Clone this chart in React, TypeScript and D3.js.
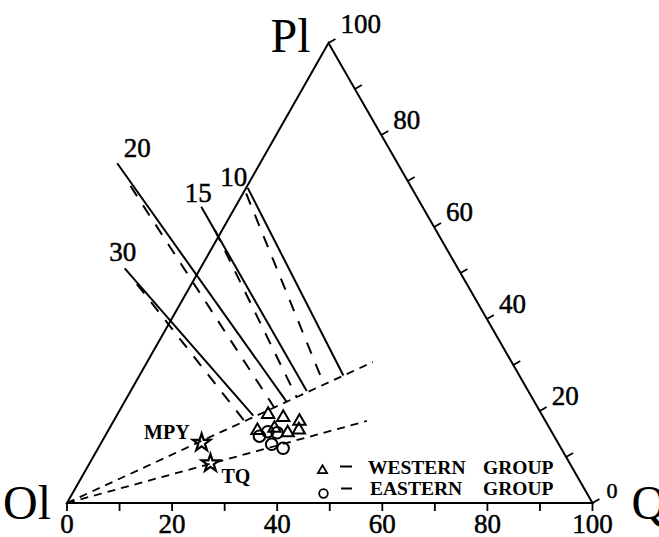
import React from 'react';
import * as d3 from 'd3';

const W = 659;
const H = 537;

// Ternary frame: Ol at lower left, Q at lower right, Pl at the top.
const OL_X = 67;
const Q_X = 592.5;
const BASE_Y = 503;
const PL_X = 328.5;
const PL_Y = 43;

const TICKS = d3.range(0, 101, 10);
const TICK_LABELS = [0, 20, 40, 60, 80, 100];

// All compositions as [Q, Pl] in percent (Ol = 100 - Q - Pl).
const PRESSURES = ['30', '20', '15', '10'];
const SOLID_START = [[-14.4, 51.0], [-27.2, 73.85], [-6.5, 64.4], [0.3, 68.5]];
const SOLID_END = [[26.0, 18.98], [30.8, 22.04], [33.5, 24.35], [38.8, 27.72]];
const DASH_START = [[-10.4, 47.6], [-22.2, 68.9], [-1.4, 59.35], [0.6, 67.3]];
const DASH_END = [[24.9, 17.83], [29.1, 20.76], [32.2, 23.04], [36.0, 25.87]];

// Projection rays drawn from the Ol corner.
const RAY_ENDS = [[42.95, 30.65], [48.2, 17.83]];

const WEST_Q = [28.7, 31.9, 35.4, 28.4, 31.4, 34.4, 36.2];
const WEST_PL = [19.24, 18.59, 17.76, 15.76, 16.24, 15.26, 15.91];
const EAST_Q = [29.4, 30.5, 32.4, 32.6, 35.2];
const EAST_PL = [14.52, 15.5, 15.26, 12.76, 11.89];

const STAR_NAMES = ['MPY', 'TQ'];
const STAR_Q = [19.1, 23.0];
const STAR_PL = [13.1, 8.63];

// Label placement relative to the start of each pressure line.
const PRESSURE_LABEL_OFFSET = [[-2, -16], [20, -15], [-3, -14], [-14, -11]];

const qScale = d3.scaleLinear().domain([0, 100]).range([OL_X, Q_X]);
const plY = d3.scaleLinear().domain([0, 100]).range([BASE_Y, PL_Y]);
const plShift = d3.scaleLinear().domain([0, 100]).range([0, PL_X - OL_X]);

function project(q: number, pl: number): [number, number] {
  return [qScale(q) + plShift(pl), plY(pl)];
}

const line = d3.line<[number, number]>().x((d) => d[0]).y((d) => d[1]);

const NUM_FONT = '"Liberation Serif", serif';

export default function App() {
  const ol = project(0, 0);
  const q = project(100, 0);
  const pl = project(0, 100);

  const triPath = line([ol, q, pl, ol]) + 'Z';

  // outward unit normal of the Q–Pl edge
  const ex = pl[0] - q[0];
  const ey = pl[1] - q[1];
  const len = Math.hypot(ex, ey);
  let nx = -ey / len;
  let ny = ex / len;
  if (nx < 0) {
    nx = -nx;
    ny = -ny;
  }

  const triSym = d3.symbol().type(d3.symbolTriangle).size(66)();
  const legTri = d3.symbol().type(d3.symbolTriangle).size(36)();
  const starSym = d3.symbol().type(d3.symbolStar).size(95)();

  const numStyle = { stroke: '#000', strokeWidth: 0.5 };

  return (
    <svg
      width={W}
      height={H}
      style={{ position: 'absolute', left: 0, top: 0, background: '#fff' }}
    >
      <rect x={0} y={0} width={W} height={H} fill="#fff" />
      <path d={triPath} fill="none" stroke="#000" strokeWidth={2} strokeLinejoin="miter" />

      {/* base ticks and labels (Q) */}
      {TICKS.map((t) => {
        const [x, y] = project(t, 0);
        return <line key={'b' + t} x1={x} y1={y} x2={x} y2={y + 8} stroke="#000" strokeWidth={1.8} />;
      })}
      {TICK_LABELS.map((t) => {
        const [x, y] = project(t, 0);
        return (
          <text key={'bl' + t} x={x} y={y + 30} textAnchor="middle" fontFamily={NUM_FONT} fontSize={27} {...numStyle}>
            {t}
          </text>
        );
      })}

      {/* right edge ticks and labels (Pl) */}
      {TICKS.map((t) => {
        const [x, y] = project(100 - t, t);
        return (
          <line key={'r' + t} x1={x} y1={y} x2={x + nx * 8} y2={y + ny * 8} stroke="#000" strokeWidth={1.8} />
        );
      })}
      {TICK_LABELS.map((t) => {
        const [x, y] = project(100 - t, t);
        const small = t === 0;
        return (
          <text
            key={'rl' + t}
            x={x + (small ? 14 : 12)}
            y={y - (t === 100 ? 10 : small ? 5 : 6)}
            fontFamily={NUM_FONT}
            fontSize={small ? 22 : 27}
            {...numStyle}
          >
            {t}
          </text>
        );
      })}

      {/* corner labels */}
      <text x={ol[0] - 64} y={ol[1] + 16} fontFamily={NUM_FONT} fontSize={48}>Ol</text>
      <text x={q[0] + 39} y={q[1] + 16} fontFamily={NUM_FONT} fontSize={48}>Q</text>
      <text x={pl[0] - 58} y={pl[1] + 9} fontFamily={NUM_FONT} fontSize={48}>Pl</text>

      {/* projection rays from Ol */}
      {RAY_ENDS.map((e, i) => (
        <path
          key={'ray' + i}
          d={line([ol, project(e[0], e[1])]) || ''}
          fill="none"
          stroke="#000"
          strokeWidth={1.8}
          strokeDasharray="8 6"
        />
      ))}

      {/* pressure lines */}
      {PRESSURES.map((p, i) => {
        const s0 = project(SOLID_START[i][0], SOLID_START[i][1]);
        const s1 = project(SOLID_END[i][0], SOLID_END[i][1]);
        const d0 = project(DASH_START[i][0], DASH_START[i][1]);
        const d1 = project(DASH_END[i][0], DASH_END[i][1]);
        const off = PRESSURE_LABEL_OFFSET[i];
        return (
          <g key={'p' + p}>
            <path d={line([s0, s1]) || ''} stroke="#000" strokeWidth={2} fill="none" />
            <path d={line([d0, d1]) || ''} stroke="#000" strokeWidth={2} fill="none" strokeDasharray="12 11" />
            <text
              x={s0[0] + off[0]}
              y={s0[1] + off[1] + 9}
              textAnchor="middle"
              fontFamily={NUM_FONT}
              fontSize={27}
              {...numStyle}
            >
              {p}
            </text>
          </g>
        );
      })}

      {/* samples */}
      {WEST_Q.map((v, i) => {
        const [x, y] = project(v, WEST_PL[i]);
        return (
          <path key={'w' + i} d={triSym || ''} transform={`translate(${x},${y})`} fill="none" stroke="#000" strokeWidth={2} />
        );
      })}
      {EAST_Q.map((v, i) => {
        const [x, y] = project(v, EAST_PL[i]);
        return <circle key={'e' + i} cx={x} cy={y} r={5.8} fill="none" stroke="#000" strokeWidth={2} />;
      })}

      {/* reference compositions */}
      {STAR_NAMES.map((n, i) => {
        const [x, y] = project(STAR_Q[i], STAR_PL[i]);
        return (
          <g key={'s' + n}>
            <path d={starSym || ''} transform={`translate(${x},${y})`} fill="none" stroke="#000" strokeWidth={2.2} />
            {i === 0 ? (
              <text x={x - 12} y={y - 4} textAnchor="end" fontFamily={NUM_FONT} fontWeight="bold" fontSize={20}>
                {n}
              </text>
            ) : (
              <text x={x + 11} y={y + 20} fontFamily={NUM_FONT} fontWeight="bold" fontSize={20}>
                {n}
              </text>
            )}
          </g>
        );
      })}

      {/* legend */}
      <g fontFamily={NUM_FONT} fontWeight="bold" fontSize={19.5}>
        <path d={legTri || ''} transform="translate(322.5,470.5)" fill="none" stroke="#000" strokeWidth={1.8} />
        <line x1={340} y1={466.5} x2={352} y2={466.5} stroke="#000" strokeWidth={2} />
        <text x={368} y={474}>WESTERN</text>
        <text x={483} y={474}>GROUP</text>
        <circle cx={323.5} cy={493.5} r={4.3} fill="none" stroke="#000" strokeWidth={1.8} />
        <line x1={341} y1={488.5} x2={352} y2={488.5} stroke="#000" strokeWidth={2} />
        <text x={370} y={495}>EASTERN</text>
        <text x={483} y={495}>GROUP</text>
      </g>
    </svg>
  );
}
